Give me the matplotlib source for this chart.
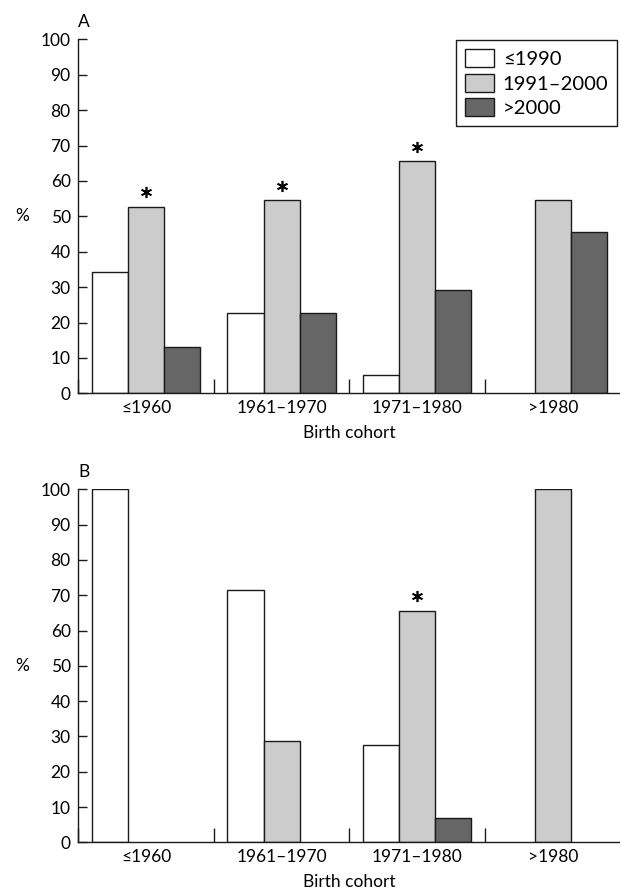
import numpy as np
import matplotlib.pyplot as plt

plt.rcParams['font.family'] = ['Lato', 'DejaVu Sans']

cohorts = ['≤1960', '1961–1970', '1971–1980', '>1980']
periods = ['≤1990', '1991–2000', '>2000']
colors = ['white', '#cccccc', '#666666']

# Panel A
a_le1990 = [34.2, 22.7, 5.3, 0.0]
a_9100 = [52.6, 54.5, 65.5, 54.5]
a_gt2000 = [13.2, 22.7, 29.2, 45.7]
a_stars = [True, True, True, False]

# Panel B
b_le1990 = [100.0, 71.4, 27.6, 0.0]
b_9100 = [0.0, 28.6, 65.5, 100.0]
b_gt2000 = [0.0, 0.0, 6.9, 0.0]
b_stars = [False, False, True, False]

W, H = 620, 894
fig = plt.figure(figsize=(W / 100, H / 100), dpi=100)

FS = 12.5
LFS = 14.6
bw = 0.8 / 3


def panel(rect, series, stars, letter, legend=False):
    ax = fig.add_axes(rect)
    x = np.arange(len(cohorts)) + 0.5
    for k, vals in enumerate(series):
        vals = np.array(vals)
        # empty cells are not drawn at all
        lw = np.where(vals > 0, 1.0, 0.0)
        ax.bar(x + (k - 1) * bw, vals, bw, color=colors[k], edgecolor='#1a1a1a',
               linewidth=lw, label=periods[k], zorder=2)
    for i, s in enumerate(stars):
        if s:
            ax.plot(x[i], series[1][i] + 4.2, marker=(6, 2, 0), markersize=8,
                    markeredgewidth=1.2, color='black', zorder=3)
    ax.set_xlim(0, 4)
    ax.set_ylim(0, 100)
    for sp in ['top', 'right']:
        ax.spines[sp].set_visible(False)
    for sp in ['left', 'bottom']:
        ax.spines[sp].set_linewidth(1.0)
        ax.spines[sp].set_color('#1a1a1a')
    ax.set_yticks(np.arange(0, 101, 10))
    ax.tick_params(axis='y', direction='in', length=6.5, width=1.0, pad=5.5,
                   labelsize=FS, color='#1a1a1a')
    # group separators as inward major ticks, labels on minor ticks
    ax.set_xticks([0, 1, 2, 3])
    ax.set_xticklabels([])
    ax.set_xticks(x, minor=True)
    ax.set_xticklabels(cohorts, minor=True)
    ax.tick_params(axis='x', which='major', direction='in', length=10, width=1.0,
                   color='#1a1a1a')
    ax.tick_params(axis='x', which='minor', length=0, pad=5, labelsize=FS)
    ax.set_xlabel('Birth cohort', fontsize=FS, labelpad=6)
    ax.set_ylabel('%', rotation=0, fontsize=FS, va='center', ha='center')
    ax.yaxis.set_label_coords(-0.104, 0.5)
    ax.text(0.01, 1.05, letter, transform=ax.transAxes, ha='center', va='center',
            fontsize=FS)
    if legend:
        lg = ax.legend(loc='upper left', bbox_to_anchor=(455.7 / W, 1 - 40 / H),
                       bbox_transform=fig.transFigure, borderaxespad=0,
                       fontsize=LFS, handlelength=1.43, handleheight=0.99,
                       handletextpad=0.44, labelspacing=0.27, borderpad=0.45,
                       fancybox=False, framealpha=1)
        lg.get_frame().set_edgecolor('#1a1a1a')
        lg.get_frame().set_linewidth(1.0)
        for p in lg.get_patches():
            p.set_linewidth(1.0)
    return ax


left = 78.3 / W
width = (620.6 - 78.3) / W
panel([left, 1 - 393.3 / H, width, 354 / H], [a_le1990, a_9100, a_gt2000], a_stars, 'A', legend=True)
panel([left, 1 - 842.3 / H, width, 353 / H], [b_le1990, b_9100, b_gt2000], b_stars, 'B')

fig.savefig('out.png', dpi=100)
